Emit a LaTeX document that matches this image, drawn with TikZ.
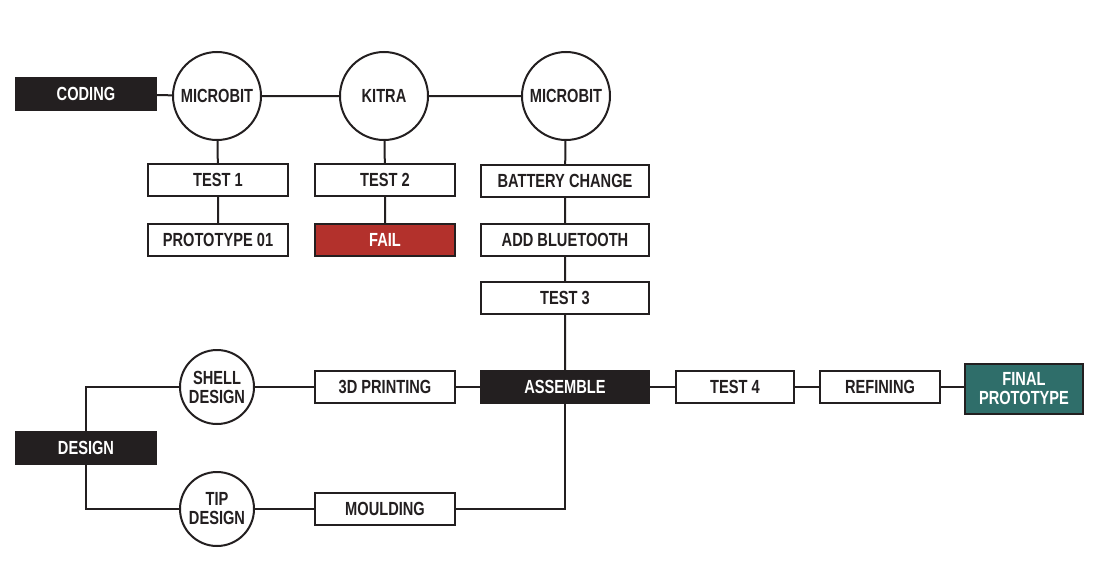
\documentclass[tikz,border=0pt]{standalone}
\usepackage{fontspec}
\setmainfont{Liberation Sans}[FakeStretch=0.77]
\usepackage{tikz}
\usepackage{xcolor}
\definecolor{inkblack}{HTML}{231F20}
\definecolor{failred}{HTML}{B3312C}
\definecolor{finalteal}{HTML}{2F6E6A}
\tikzset{
    plain-box/.style = {draw=inkblack, fill=white, line width=2pt, rectangle, minimum width=140pt, minimum height=32pt, inner sep=1pt, font=\bfseries\fontsize{19}{19}\selectfont, text=inkblack},
    dark-box/.style = {plain-box, fill=inkblack, text=white},
    stage-circle/.style = {draw=inkblack, fill=white, line width=2pt, circle, minimum size=88pt, inner sep=0pt, font=\bfseries\fontsize{19}{19}\selectfont, text=inkblack, align=center},
    small-circle/.style = {stage-circle, minimum size=74pt},
    link/.style = {draw=inkblack, line width=2pt},
}
\begin{document}
\begin{tikzpicture}[x=1pt, y=-1pt]
\useasboundingbox (0,0) rectangle (1102,562);
% coding branch
\node [dark-box] (coding) at (86,94) {CODING};
\node [stage-circle] (mb1) at (217,96) {MICROBIT};
\node [stage-circle] (kitra) at (384,96) {KITRA};
\node [stage-circle] (mb2) at (566,96) {MICROBIT};
\node [plain-box] (test1) at (218,180) {TEST 1};
\node [plain-box] (proto) at (218,240) {PROTOTYPE 01};
\node [plain-box] (test2) at (385,180) {TEST 2};
\node [plain-box, fill=failred, text=white] (fail) at (385,240) {FAIL};
\node [plain-box, minimum width=168pt] (battery) at (565,181) {BATTERY CHANGE};
\node [plain-box, minimum width=168pt] (bluetooth) at (565,240) {ADD BLUETOOTH};
\node [plain-box, minimum width=168pt] (test3) at (565,298) {TEST 3};
% design branch
\node [dark-box] (design) at (86,448) {DESIGN};
\node [small-circle] (shell) at (217,387) {SHELL\\DESIGN};
\node [small-circle] (tip) at (217,509) {TIP\\DESIGN};
\node [plain-box] (printing) at (385,387) {3D PRINTING};
\node [plain-box] (moulding) at (385,509) {MOULDING};
\node [dark-box, minimum width=168pt] (assemble) at (565,387) {ASSEMBLE};
\node [plain-box, minimum width=118pt] (test4) at (735,387) {TEST 4};
\node [plain-box, minimum width=120pt] (refining) at (880,387) {REFINING};
\node [plain-box, fill=finalteal, text=white, minimum width=118pt, minimum height=50pt, align=center] (final) at (1024,389) {FINAL\\PROTOTYPE};

\draw [link] (coding) -- (mb1) -- (kitra) -- (mb2);
\draw [link] (mb1) -- (test1) -- (proto);
\draw [link] (kitra) -- (test2) -- (fail);
\draw [link] (mb2) -- (battery) -- (bluetooth) -- (test3) -- (assemble);
\draw [link] (design.north) |- (shell);
\draw [link] (design.south) |- (tip);
\draw [link] (shell) -- (printing) -- (assemble);
\draw [link] (tip) -- (moulding);
\draw [link] (moulding.east) -| (assemble.south);
\draw [link] (assemble) -- (test4) -- (refining) -- (final.west |- refining);
\end{tikzpicture}
\end{document}
